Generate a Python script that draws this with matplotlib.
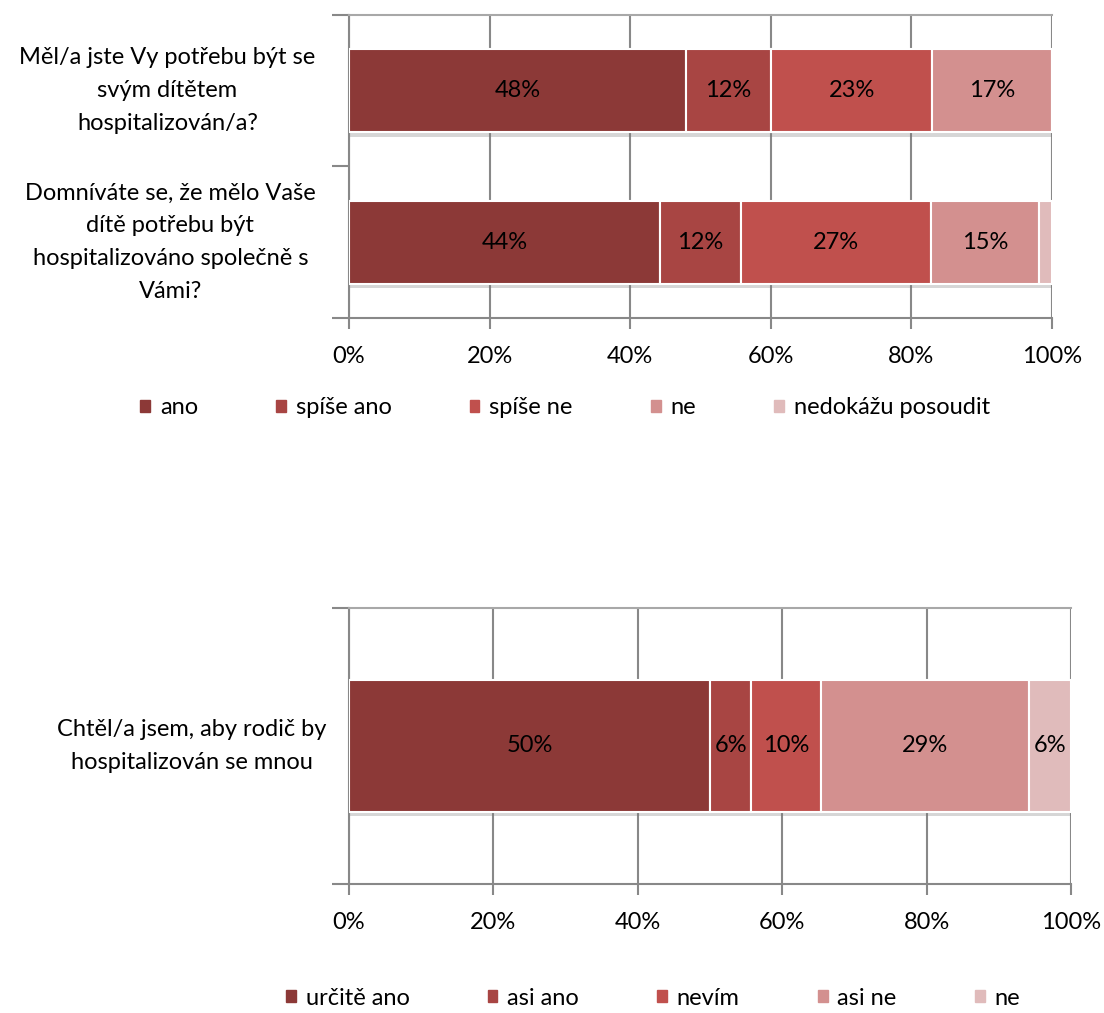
import numpy as np
import matplotlib.pyplot as plt
from matplotlib import patheffects
from matplotlib.patches import Patch

plt.rcParams['font.family'] = ['Lato', 'DejaVu Sans']

# parents' questions (upper chart)
parent_questions = [
    "Měl/a jste Vy potřebu být se\nsvým dítětem\nhospitalizován/a?",
    "Domníváte se, že mělo Vaše\ndítě potřebu být\nhospitalizováno společně s\nVámi?",
]
parent_answers = ["ano", "spíše ano", "spíše ne", "ne", "nedokážu posoudit"]
parent_ano = [48, 44.2]
parent_spise_ano = [12, 11.6]
parent_spise_ne = [23, 27.0]
parent_ne = [17, 15.4]
parent_nedokazu = [0, 1.8]

# child's question (lower chart)
child_questions = ["Chtěl/a jsem, aby rodič by\nhospitalizován se mnou"]
child_answers = ["určitě ano", "asi ano", "nevím", "asi ne", "ne"]
child_urcite_ano = [50.0]
child_asi_ano = [5.7]
child_nevim = [9.7]
child_asi_ne = [28.8]
child_ne = [5.8]

colors = ["#8c3937", "#a84543", "#c0504d", "#d3908f", "#e0bbbb"]
grid_col = "#888888"
FS = 17


def draw_stacked(ax, questions, answers, series, bar_height, label_pad):
    y = np.arange(len(questions))
    left = np.zeros(len(questions))
    shadow = [patheffects.SimplePatchShadow(offset=(1, -3), shadow_rgbFace="#7a7a7a", alpha=0.3),
              patheffects.Normal()]
    for name, vals, color in zip(answers, series, colors):
        vals = np.asarray(vals, dtype=float)
        bars = ax.barh(y, vals, left=left, height=bar_height, color=color,
                       edgecolor="white", linewidth=1.5, label=name, zorder=3)
        for b in bars:
            b.set_path_effects(shadow)
        for yi, x0, v in zip(y, left, vals):
            if v >= 3:
                ax.text(x0 + v / 2, yi, f"{v:.0f}%", ha="center", va="center",
                        fontsize=FS, zorder=4)
        left += vals

    ax.set_xlim(0, 100)
    ax.set_ylim(len(questions) - 0.5, -0.5)
    ax.set_xticks(np.arange(0, 101, 20))
    ax.set_xticklabels([f"{t}%" for t in range(0, 101, 20)])
    ax.set_yticks(y)
    ax.set_yticklabels(questions, multialignment="center", linespacing=1.7, va="center")
    ax.set_yticks(np.arange(len(questions) + 1) - 0.5, minor=True)

    ax.tick_params(axis="x", direction="out", length=8, width=1.5, color=grid_col,
                   labelsize=FS, pad=12)
    ax.tick_params(axis="y", which="major", length=0, labelsize=FS, pad=label_pad)
    ax.tick_params(axis="y", which="minor", direction="out", length=12, width=1.5,
                   color=grid_col)

    ax.xaxis.grid(True, color=grid_col, linewidth=1.5, zorder=0)
    ax.set_axisbelow(True)
    for side in ("left", "bottom"):
        ax.spines[side].set_color(grid_col)
        ax.spines[side].set_linewidth(1.5)
    ax.spines["top"].set_color("#a8a8a8")
    ax.spines["top"].set_linewidth(1.5)
    ax.spines["right"].set_visible(False)


fig = plt.figure(figsize=(11.04, 10.13), dpi=100)
W, H = 1104, 1013

ax1 = fig.add_axes([349 / W, 1 - 318 / H, 703 / W, 303 / H])
draw_stacked(ax1, parent_questions, parent_answers,
             [parent_ano, parent_spise_ano, parent_spise_ne, parent_ne, parent_nedokazu],
             bar_height=0.55, label_pad=24)

ax2 = fig.add_axes([349 / W, 1 - 884 / H, 722 / W, 276 / H])
draw_stacked(ax2, child_questions, child_answers,
             [child_urcite_ano, child_asi_ano, child_nevim, child_asi_ne, child_ne],
             bar_height=0.48, label_pad=16)

legend_kw = dict(loc="center", ncol=5, frameon=False, fontsize=FS, handlelength=0.42,
                 handleheight=0.42, handletextpad=0.42, columnspacing=3.3)
fig.legend(handles=[Patch(color=c, label=a) for c, a in zip(colors, parent_answers)],
           bbox_to_anchor=(565 / W, 1 - 408 / H), **legend_kw)
fig.legend(handles=[Patch(color=c, label=a) for c, a in zip(colors, child_answers)],
           bbox_to_anchor=(653 / W, 1 - 998 / H), **legend_kw)

fig.savefig("out.png", dpi=100)
